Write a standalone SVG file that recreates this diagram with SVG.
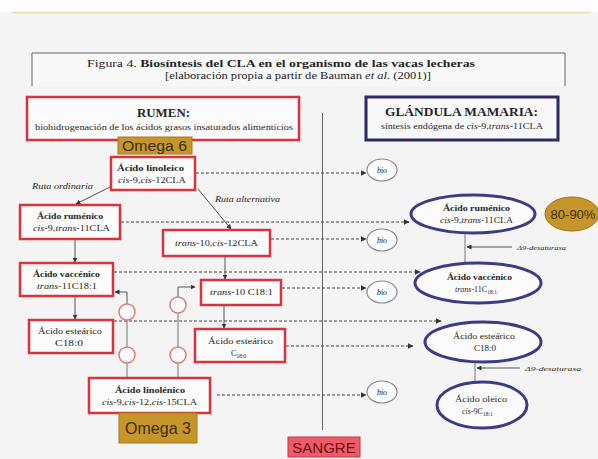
<svg xmlns="http://www.w3.org/2000/svg" width="598" height="459" viewBox="0 0 598 459">
<defs>
<style>
.serif{font-family:"Liberation Serif","Times New Roman",serif;fill:#262626}
.sans{font-family:"Liberation Sans",Arial,sans-serif}
.rbox{fill:#fbfbfb;stroke:#d8343f;stroke-width:2.5}
.bell{fill:#fbfbfb;stroke:#3b3b86;stroke-width:3}
.bio{fill:#fbfbfb;stroke:#8a8a8a;stroke-width:1.2}
.dash{fill:none;stroke:#444;stroke-width:1.2;stroke-dasharray:3 2;marker-end:url(#ah)}
.solid{fill:none;stroke:#555;stroke-width:1;marker-end:url(#ah)}
.plain{fill:none;stroke:#777;stroke-width:1}
.circ{fill:#fbfbfb;stroke:#e07a7a;stroke-width:1.5}
.gold{fill:#c6962a;stroke:#a47a1c;stroke-width:1}
.t8{font-size:8px}
.b{font-weight:bold}
.i{font-style:italic}
</style>
<marker id="ah" viewBox="0 0 10 10" refX="9" refY="5" markerWidth="5" markerHeight="5" orient="auto">
<path d="M0,0 L10,5 L0,10 z" fill="#333"/>
</marker>
</defs>
<rect x="0" y="0" width="598" height="459" fill="#f4f4f4"/>
<rect x="0" y="0" width="598" height="12" fill="#fdfdfd"/>
<line x1="12" y1="12.5" x2="590" y2="12.5" stroke="#e6dcb0" stroke-width="1.5"/>

<g id="title">
<path d="M32,86 V53 H565 V86" fill="#f8f8f8" stroke="#666" stroke-width="1"/>
<text class="serif" x="87" y="67" font-size="10" textLength="388" lengthAdjust="spacingAndGlyphs">Figura 4. <tspan class="b">Biosíntesis del CLA en el organismo de las vacas lecheras</tspan></text>
<text class="serif" x="165" y="79" font-size="10" textLength="266" lengthAdjust="spacingAndGlyphs">[elaboración propia a partir de Bauman <tspan class="i">et al.</tspan> (2001)]</text>
</g>

<g id="rumen">
<rect class="rbox" x="27" y="97" width="272" height="43" stroke-width="3"/>
<text class="serif b" x="137" y="117" font-size="12" textLength="53" lengthAdjust="spacingAndGlyphs">RUMEN:</text>
<text class="serif" x="35" y="130" font-size="7.5" textLength="258" lengthAdjust="spacingAndGlyphs">biohidrogenación de los ácidos grasos insaturados alimenticios</text>
</g>

<g id="glandula">
<rect x="366" y="97" width="192" height="43" fill="#f8f8f8" stroke="#2b2a66" stroke-width="3"/>
<text class="serif b" x="385" y="116" font-size="13" textLength="153" lengthAdjust="spacingAndGlyphs">GLÁNDULA MAMARIA:</text>
<text class="serif" x="381" y="129" font-size="7.5" textLength="162" lengthAdjust="spacingAndGlyphs">síntesis endógena de <tspan class="i">cis</tspan>-9,<tspan class="i">trans</tspan>-11CLA</text>
</g>

<g id="sangre-line">
<line x1="322.5" y1="113" x2="322.5" y2="430" stroke="#666" stroke-width="1"/>
</g>

<g id="connectors">
<path class="dash" d="M196,173 H366"/>
<path class="dash" d="M121,222 H409"/>
<path class="dash" d="M271,239 H366"/>
<path class="dash" d="M114,272 H420"/>
<path class="dash" d="M282,288 H366"/>
<path class="dash" d="M114,321 H441"/>
<path class="dash" d="M286,346 H413"/>
<path class="dash" d="M217,395 H366"/>
<path class="solid" d="M110,187 L76,204"/>
<path class="solid" d="M198,189 L231,229"/>
<path class="solid" d="M75,240 V262"/>
<path class="solid" d="M75,297 V319"/>
<path class="solid" d="M225,257 V279"/>
<path class="solid" d="M224,306 V328"/>
<path class="plain" d="M127,378 V363 M127,347 V320"/>
<path class="solid" d="M127,304 V292 H115"/>
<path class="plain" d="M178,378 V363 M178,347 V313"/>
<path class="solid" d="M178,297 V287 H195"/>
<path class="plain" d="M465,234 V263"/>
<path class="solid" d="M512,247 H467"/>
<path class="plain" d="M475,363 V382"/>
<path class="solid" d="M520,368 H477"/>
</g>

<g id="circles">
<circle class="circ" cx="127" cy="312" r="8"/>
<circle class="circ" cx="127" cy="355" r="8"/>
<circle class="circ" cx="178" cy="305" r="8"/>
<circle class="circ" cx="178" cy="355" r="8"/>
</g>

<g id="omega6">
<rect class="gold" x="118" y="137" width="74" height="17"/>
<text class="sans" x="122" y="151" font-size="14" fill="#3a2e0a" textLength="65" lengthAdjust="spacingAndGlyphs">Omega 6</text>
</g>

<g id="linoleico">
<rect class="rbox" x="111" y="157" width="84" height="33"/>
<text class="serif t8 b" x="117" y="171" textLength="67" lengthAdjust="spacingAndGlyphs">Ácido linoleico</text>
<text class="serif t8" x="118" y="183" textLength="68" lengthAdjust="spacingAndGlyphs"><tspan class="i">cis</tspan>-9,<tspan class="i">cis</tspan>-12CLA</text>
</g>

<g id="labels-ruta">
<text class="serif t8 i" x="32" y="189" textLength="61" lengthAdjust="spacingAndGlyphs">Ruta ordinaria</text>
<text class="serif t8 i" x="215" y="202" textLength="65" lengthAdjust="spacingAndGlyphs">Ruta alternativa</text>
</g>

<g id="rumenico">
<rect class="rbox" x="20" y="205" width="100" height="34"/>
<text class="serif t8 b" x="37" y="219" textLength="66" lengthAdjust="spacingAndGlyphs">Ácido ruménico</text>
<text class="serif t8" x="33" y="231" textLength="77" lengthAdjust="spacingAndGlyphs"><tspan class="i">cis</tspan>-9,<tspan class="i">trans</tspan>-11CLA</text>
</g>

<g id="t10c12">
<rect class="rbox" x="163" y="230" width="107" height="26"/>
<text class="serif t8" x="175" y="246" textLength="83" lengthAdjust="spacingAndGlyphs"><tspan class="i">trans</tspan>-10,<tspan class="i">cis</tspan>-12CLA</text>
</g>

<g id="vaccenico">
<rect class="rbox" x="20" y="263" width="93" height="33"/>
<text class="serif t8 b" x="33" y="277" textLength="67" lengthAdjust="spacingAndGlyphs">Ácido vaccénico</text>
<text class="serif t8" x="37" y="289" textLength="60" lengthAdjust="spacingAndGlyphs"><tspan class="i">trans</tspan>-11C18:1</text>
</g>

<g id="t10c181">
<rect class="rbox" x="201" y="280" width="80" height="25"/>
<text class="serif t8" x="210" y="295" textLength="63" lengthAdjust="spacingAndGlyphs"><tspan class="i">trans</tspan>-10 C18:1</text>
</g>

<g id="estearico-left">
<rect class="rbox" x="29" y="320" width="84" height="33"/>
<text class="serif t8" x="38" y="334" textLength="64" lengthAdjust="spacingAndGlyphs">Ácido esteárico</text>
<text class="serif t8" x="55" y="346" textLength="28" lengthAdjust="spacingAndGlyphs">C18:0</text>
</g>

<g id="estearico-mid">
<rect class="rbox" x="195" y="329" width="90" height="33"/>
<text class="serif t8" x="208" y="344" textLength="65" lengthAdjust="spacingAndGlyphs">Ácido esteárico</text>
<text class="serif t8" x="231" y="356">C<tspan font-size="5.5" dy="1.5">18:0</tspan></text>
</g>

<g id="linolenico">
<rect class="rbox" x="89" y="378" width="121" height="35"/>
<text class="serif t8 b" x="115" y="393" textLength="70" lengthAdjust="spacingAndGlyphs">Ácido linolénico</text>
<text class="serif t8" x="102" y="405" textLength="95" lengthAdjust="spacingAndGlyphs"><tspan class="i">cis</tspan>-9,<tspan class="i">cis</tspan>-12,<tspan class="i">cis</tspan>-15CLA</text>
</g>

<g id="omega3">
<rect class="gold" x="119" y="413" width="78" height="30"/>
<text class="sans" x="158" y="434" font-size="16" fill="#3a2e0a" text-anchor="middle">Omega 3</text>
</g>

<g id="bio1"><ellipse class="bio" cx="382" cy="170" rx="15" ry="11"/><text class="serif t8 i" x="382" y="173" text-anchor="middle">bio</text></g>
<g id="bio2"><ellipse class="bio" cx="382" cy="240" rx="15" ry="11"/><text class="serif t8 i" x="382" y="243" text-anchor="middle">bio</text></g>
<g id="bio3"><ellipse class="bio" cx="382" cy="292" rx="15" ry="11"/><text class="serif t8 i" x="382" y="295" text-anchor="middle">bio</text></g>
<g id="bio4"><ellipse class="bio" cx="382" cy="392" rx="15" ry="11"/><text class="serif t8 i" x="382" y="395" text-anchor="middle">bio</text></g>

<g id="m-rumenico">
<ellipse class="bell" cx="473" cy="214" rx="62" ry="19"/>
<text class="serif t8 b" x="443" y="211" textLength="67" lengthAdjust="spacingAndGlyphs">Ácido ruménico</text>
<text class="serif t8" x="440" y="223" textLength="73" lengthAdjust="spacingAndGlyphs"><tspan class="i">cis</tspan>-9,<tspan class="i">trans</tspan>-11CLA</text>
</g>

<g id="pct">
<ellipse cx="572" cy="214" rx="27" ry="17" fill="#c6962a" stroke="#9c7418" stroke-width="1"/>
<text class="sans" x="573" y="219" font-size="13" fill="#3a2e0a" text-anchor="middle">80-90%</text>
</g>

<g id="m-vaccenico">
<ellipse class="bell" cx="478" cy="283" rx="63" ry="20"/>
<text class="serif t8 b" x="447" y="280" textLength="65" lengthAdjust="spacingAndGlyphs">Ácido vaccénico</text>
<text class="serif t8" x="455" y="292"><tspan class="i">trans</tspan>-11C<tspan font-size="5.5" dy="1.5">18:1</tspan></text>
</g>

<g id="m-estearico">
<ellipse class="bell" cx="483" cy="342" rx="58" ry="20"/>
<text class="serif t8" x="453" y="339" textLength="62" lengthAdjust="spacingAndGlyphs">Ácido esteárico</text>
<text class="serif t8" x="474" y="351" textLength="22" lengthAdjust="spacingAndGlyphs">C18:0</text>
</g>

<g id="m-oleico">
<ellipse class="bell" cx="482" cy="405" rx="45" ry="23"/>
<text class="serif t8" x="455" y="402" textLength="52" lengthAdjust="spacingAndGlyphs">Ácido oleico</text>
<text class="serif t8" x="462" y="414"><tspan class="i">cis</tspan>-9C<tspan font-size="5.5" dy="1.5">18:1</tspan></text>
</g>

<g id="desat">
<text class="serif i" x="517" y="250" font-size="7" textLength="49" lengthAdjust="spacingAndGlyphs">Δ9-desaturasa</text>
<text class="serif i" x="525" y="371" font-size="7" textLength="56" lengthAdjust="spacingAndGlyphs">Δ9-desaturasa</text>
</g>

<g id="sangre">
<rect x="288" y="437" width="72" height="20" fill="#ee5a68" stroke="#c23a46" stroke-width="1"/>
<text class="sans" x="324" y="453" font-size="15" fill="#6a1010" text-anchor="middle">SANGRE</text>
</g>
</svg>
